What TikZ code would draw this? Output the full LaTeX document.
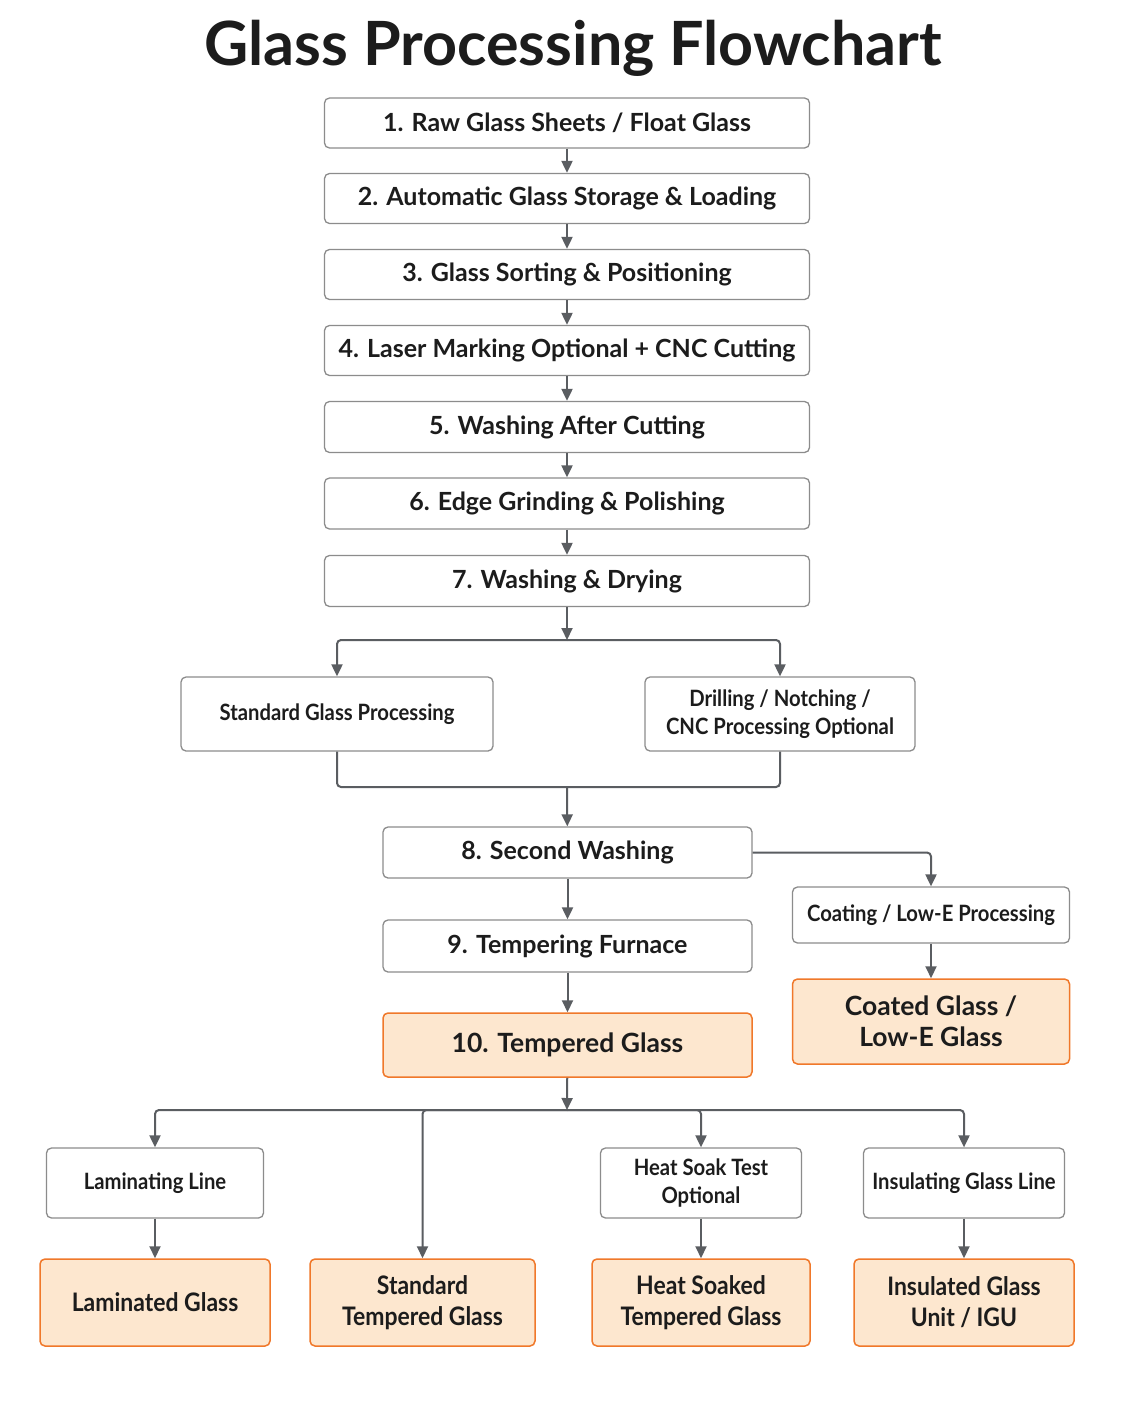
\documentclass[tikz,border=0pt]{standalone}
\usepackage{fontspec}
\setmainfont{Lato}
\newfontfamily\condfont[FakeStretch=0.9]{Lato}
\usetikzlibrary{arrows.meta}
\definecolor{boxgray}{HTML}{8C8C8C}
\definecolor{arrgray}{HTML}{5A5D61}
\definecolor{outfill}{HTML}{FDE7CF}
\definecolor{outdraw}{HTML}{F0782A}
\definecolor{inkblack}{HTML}{1C1C1C}
\tikzset{
  stepbox/.style={draw=boxgray, line width=1.3pt, rounded corners=5pt, fill=white,
    text=inkblack, align=center, inner sep=0pt,
    font=\fontsize{25}{28}\selectfont\bfseries},
  sidebox/.style={stepbox, font=\condfont\fontsize{22.5}{28}\selectfont\bfseries},
  outbox/.style={stepbox, draw=outdraw, fill=outfill, line width=1.5pt,
    font=\fontsize{26.5}{31}\selectfont\bfseries},
  endbox/.style={outbox, font=\condfont\fontsize{25.5}{31}\selectfont\bfseries},
  link/.style={draw=arrgray, line width=2pt, rounded corners=4pt},
  arr/.style={link, -{Triangle[length=12pt,width=11pt]}}
}
\begin{document}
\begin{tikzpicture}[x=1pt,y=-1pt]
  \useasboundingbox[fill=white] (0,0) rectangle (1122,1402);

  % Title
  \node[text=inkblack, font=\fontsize{61}{66}\selectfont\bfseries] (title) at (573,48) {Glass Processing Flowchart};

  % Main column
  \node[stepbox, minimum width=485pt, minimum height=50pt] (n1) at (567,123) {1. Raw Glass Sheets / Float Glass};
  \node[stepbox, minimum width=485pt, minimum height=50pt] (n2) at (567,198.5) {2. Automatic Glass Storage \& Loading};
  \node[stepbox, minimum width=485pt, minimum height=50pt] (n3) at (567,274.5) {3. Glass Sorting \& Positioning};
  \node[stepbox, minimum width=485pt, minimum height=50pt] (n4) at (567,350.5) {4. Laser Marking Optional + CNC Cutting};
  \node[stepbox, minimum width=485pt, minimum height=51pt] (n5) at (567,427) {5. Washing After Cutting};
  \node[stepbox, minimum width=485pt, minimum height=51pt] (n6) at (567,503.5) {6. Edge Grinding \& Polishing};
  \node[stepbox, minimum width=485pt, minimum height=51pt] (n7) at (567,581) {7. Washing \& Drying};

  \foreach \a/\b in {n1/n2,n2/n3,n3/n4,n4/n5,n5/n6,n6/n7} {
    \draw[arr] (\a) -- (\b);
  }

  % Processing branches
  \node[sidebox, minimum width=312pt, minimum height=74pt] (std) at (337,714) {Standard Glass Processing};
  \node[sidebox, minimum width=270pt, minimum height=74pt] (drill) at (780,714) {Drilling / Notching /\\CNC Processing Optional};
  \coordinate (split1) at (567,640);
  \coordinate (join1) at (567,787);
  \draw[arr] (n7) -- (split1);
  \draw[arr] (split1) -| (std.north);
  \draw[arr] (split1) -| (drill.north);
  \draw[link] (std.south) |- (join1);
  \draw[link] (drill.south) |- (join1);

  % Washing and tempering
  \node[stepbox, minimum width=369pt, minimum height=51pt] (n8) at (567.5,852.5) {8. Second Washing};
  \node[stepbox, minimum width=369pt, minimum height=52pt] (n9) at (567.5,946) {9. Tempering Furnace};
  \node[outbox, minimum width=369pt, minimum height=64pt] (n10) at (567.5,1045) {10. Tempered Glass};
  \draw[arr] (join1) -- (n8);
  \draw[arr] (n8) -- (n9);
  \draw[arr] (n9) -- (n10);

  % Coating line
  \node[sidebox, minimum width=277pt, minimum height=56pt] (coat) at (931,915) {Coating / Low-E Processing};
  \node[outbox, minimum width=277pt, minimum height=85pt] (coated) at (931,1021.5) {Coated Glass /\\Low-E Glass};
  \draw[arr] (n8.east) -| (coat.north);
  \draw[arr] (coat) -- (coated);

  % Final lines
  \node[sidebox, minimum width=217pt, minimum height=70pt] (lam) at (155,1183) {Laminating Line};
  \node[sidebox, minimum width=201pt, minimum height=70pt] (heat) at (701,1183) {Heat Soak Test\\Optional};
  \node[sidebox, minimum width=201pt, minimum height=70pt] (insul) at (964,1183) {Insulating Glass Line};

  \node[endbox, minimum width=230pt, minimum height=87pt] (olam) at (155,1302.5) {Laminated Glass};
  \node[endbox, minimum width=225pt, minimum height=87pt] (ostd) at (422.5,1302.5) {Standard\\Tempered Glass};
  \node[endbox, minimum width=218pt, minimum height=87pt] (oheat) at (701,1302.5) {Heat Soaked\\Tempered Glass};
  \node[endbox, minimum width=220pt, minimum height=87pt] (oinsul) at (964,1302.5) {Insulated Glass\\Unit / IGU};

  \coordinate (split2) at (567,1110);
  \draw[arr] (n10) -- (split2);
  \foreach \t in {lam,ostd,heat,insul} {
    \draw[arr] (split2) -| (\t.north);
  }
  \draw[arr] (lam) -- (olam);
  \draw[arr] (heat) -- (oheat);
  \draw[arr] (insul) -- (oinsul);
\end{tikzpicture}
\end{document}
